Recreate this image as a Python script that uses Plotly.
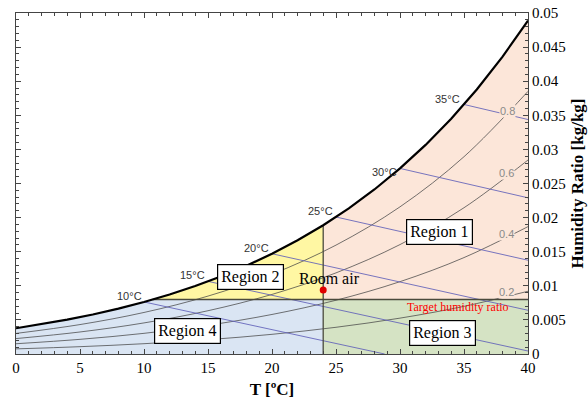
import numpy as np
import plotly.graph_objects as go

# ---------------- data ----------------
# saturation humidity ratio (kg/kg) vs dry-bulb temperature (degC)
T_sat = [0, 2, 4, 6, 8, 10, 12, 14, 16, 18, 20, 22, 24, 26, 28, 30, 32, 34, 36, 38, 40]
w_sat = [0.003775, 0.004364, 0.005034, 0.005795, 0.006657, 0.007632, 0.008732,
         0.009973, 0.011369, 0.012938, 0.014699, 0.016673, 0.018884, 0.021357,
         0.024122, 0.027209, 0.030655, 0.034500, 0.038789, 0.043574, 0.048898]

# relative humidity lines
T_rh = [0, 5, 10, 15, 20, 25, 30, 35, 40]
rh_labels = ["0.2", "0.4", "0.6", "0.8"]
w_rh20 = [0.000752, 0.001073, 0.001511, 0.002101, 0.002885, 0.003916, 0.005258, 0.006989, 0.009201]
w_rh40 = [0.001505, 0.002150, 0.003031, 0.004217, 0.005798, 0.007882, 0.010606, 0.014136, 0.018678]
w_rh60 = [0.002260, 0.003230, 0.004557, 0.006346, 0.008737, 0.011898, 0.016045, 0.021448, 0.028445]
w_rh80 = [0.003016, 0.004315, 0.006091, 0.008491, 0.011704, 0.015966, 0.021579, 0.028930, 0.038513]
rh_label_T = [38.3, 38.3, 38.3, 38.4]
rh_label_w = [0.00905, 0.0176, 0.02654, 0.03563]

# wet-bulb lines (start on saturation curve, end point)
wb_names = ["10°C", "15°C", "20°C", "25°C", "30°C", "35°C"]
wb_T0 = [10, 15, 20, 25, 30, 35]
wb_w0 = [0.007632, 0.010650, 0.014699, 0.020086, 0.027209, 0.036587]
wb_T1 = [28.8, 40, 40, 40, 40, 40]
wb_w1 = [0.0, 0.00044, 0.00641, 0.01375, 0.02290, 0.03438]
wb_label_T = [8.87, 13.79, 18.8, 23.8, 28.8, 33.7]
wb_label_w = [0.00850, 0.01158, 0.01554, 0.02097, 0.02669, 0.03739]

# regions / points
T_room = 24.0
w_room = 0.0094
w_target = 0.008
region_names = ["Region 1", "Region 2", "Region 3", "Region 4"]
region_T = [33.1, 18.3, 33.3, 13.4]
region_w = [0.01789, 0.01122, 0.00308, 0.00337]

x_ticks = [0, 5, 10, 15, 20, 25, 30, 35, 40]
y_ticks = [0, 0.005, 0.01, 0.015, 0.02, 0.025, 0.03, 0.035, 0.04, 0.045, 0.05]
y_tick_text = ["0", "0.005", "0.01", "0.015", "0.02", "0.025", "0.03", "0.035", "0.04", "0.045", "0.05"]

# ---------------- build ----------------
Ts = np.array(T_sat, dtype=float)
Ws = np.array(w_sat, dtype=float)
Tx = float(np.interp(w_target, Ws, Ts))      # where saturation meets target
w24 = float(np.interp(T_room, Ts, Ws))

C_PEACH = "#fce6d9"
C_YELLOW = "#fff7a3"
C_GREEN = "#d5e3c4"
C_BLUE = "#dae5f3"
C_EDGE = "#4a4a3c"
SERIF = "Liberation Serif, Times New Roman, serif"

fig = go.Figure()

def poly(xs, ys, color):
    fig.add_trace(go.Scatter(x=xs, y=ys, fill="toself", fillcolor=color, mode="lines",
                             line=dict(width=0), hoverinfo="skip", showlegend=False))

# Region 4 (blue)
m = Ts < Tx
poly([0] + list(Ts[m]) + [Tx, T_room, T_room, 0],
     [0] + list(Ws[m]) + [w_target, w_target, 0, 0], C_BLUE)
# Region 2 (yellow)
m = (Ts > Tx) & (Ts < T_room)
poly([Tx] + list(Ts[m]) + [T_room, T_room, Tx],
     [w_target] + list(Ws[m]) + [w24, w_target, w_target], C_YELLOW)
# Region 1 (peach)
m = Ts > T_room
poly([T_room, T_room] + list(Ts[m]) + [40, T_room],
     [w_target, w24] + list(Ws[m]) + [w_target, w_target], C_PEACH)
# Region 3 (green)
poly([T_room, 40, 40, T_room, T_room], [0, 0, w_target, w_target, 0], C_GREEN)

# RH lines
for wl in [w_rh20, w_rh40, w_rh60, w_rh80]:
    fig.add_trace(go.Scatter(x=T_rh, y=wl, mode="lines", line=dict(color="rgba(70,70,70,0.75)", width=1, shape="spline"),
                             hoverinfo="skip", showlegend=False))

# wet-bulb lines
for i in range(len(wb_T0)):
    fig.add_trace(go.Scatter(x=[wb_T0[i], wb_T1[i]], y=[wb_w0[i], wb_w1[i]], mode="lines",
                             line=dict(color="rgba(95,95,185,0.85)", width=1),
                             hoverinfo="skip", showlegend=False))

# region boundaries
fig.add_trace(go.Scatter(x=[T_room, T_room], y=[0, w24], mode="lines",
                         line=dict(color=C_EDGE, width=1.3), hoverinfo="skip", showlegend=False))
fig.add_trace(go.Scatter(x=[Tx, 40], y=[w_target, w_target], mode="lines",
                         line=dict(color=C_EDGE, width=1.5), hoverinfo="skip", showlegend=False))

# saturation curve
fig.add_trace(go.Scatter(x=T_sat, y=w_sat, mode="lines", line=dict(color="black", width=2.2),
                         hoverinfo="skip", showlegend=False))

# room air point
fig.add_trace(go.Scatter(x=[T_room], y=[w_room], mode="markers",
                         marker=dict(color="#e00000", size=7), hoverinfo="skip", showlegend=False))

ann = []
for name, x, y in zip(region_names, region_T, region_w):
    ann.append(dict(x=x, y=y, text=name, showarrow=False, bgcolor="white", bordercolor="black",
                    borderwidth=1.2, borderpad=3, font=dict(family=SERIF, size=16, color="black")))
ann.append(dict(x=24.5, y=0.01107, text="Room air", showarrow=False,
                font=dict(family=SERIF, size=16, color="black")))
ann.append(dict(x=34.5, y=0.00689, text="Target humidity ratio", showarrow=False,
                font=dict(family=SERIF, size=12, color="#ff0000")))
for name, x, y in zip(wb_names, wb_label_T, wb_label_w):
    ann.append(dict(x=x, y=y, text=name, showarrow=False,
                    font=dict(family="Liberation Sans, Arial, sans-serif", size=11, color="#333333")))
for name, x, y in zip(rh_labels, rh_label_T, rh_label_w):
    ann.append(dict(x=x, y=y, text=name, showarrow=False, bgcolor=C_PEACH, borderpad=0,
                    font=dict(family="Liberation Sans, Arial, sans-serif", size=11, color="#8a8a8a")))

fig.update_layout(
    width=588, height=407,
    margin=dict(l=16, r=60, t=13, b=53),
    paper_bgcolor="white", plot_bgcolor="white",
    annotations=ann,
    xaxis=dict(range=[0, 40], tickvals=x_ticks, ticks="inside", ticklen=5, tickcolor="#444",
               showline=True, linecolor="#444", linewidth=1, mirror="ticks", showgrid=False, zeroline=False,
               automargin=False,
               minor=dict(dtick=1, ticks="inside", ticklen=3, tickcolor="#444", showgrid=False),
               tickfont=dict(family=SERIF, size=15, color="black"),
               title=dict(text="<b>T [ºC]</b>", font=dict(family=SERIF, size=17, color="black"), standoff=8)),
    yaxis=dict(range=[0, 0.05], side="right", tickvals=y_ticks, ticktext=y_tick_text,
               ticks="inside", ticklen=5, tickcolor="#444",
               showline=True, linecolor="#444", linewidth=1, mirror="ticks", showgrid=False, zeroline=False,
               automargin=False,
               minor=dict(dtick=0.001, ticks="inside", ticklen=3, tickcolor="#444", showgrid=False),
               tickfont=dict(family=SERIF, size=15, color="black"),
               title=dict(text="<b>Humidity Ratio [kg/kg]</b>", font=dict(family=SERIF, size=17, color="black"),
                          standoff=6)),
)

fig.write_html("out.html")
